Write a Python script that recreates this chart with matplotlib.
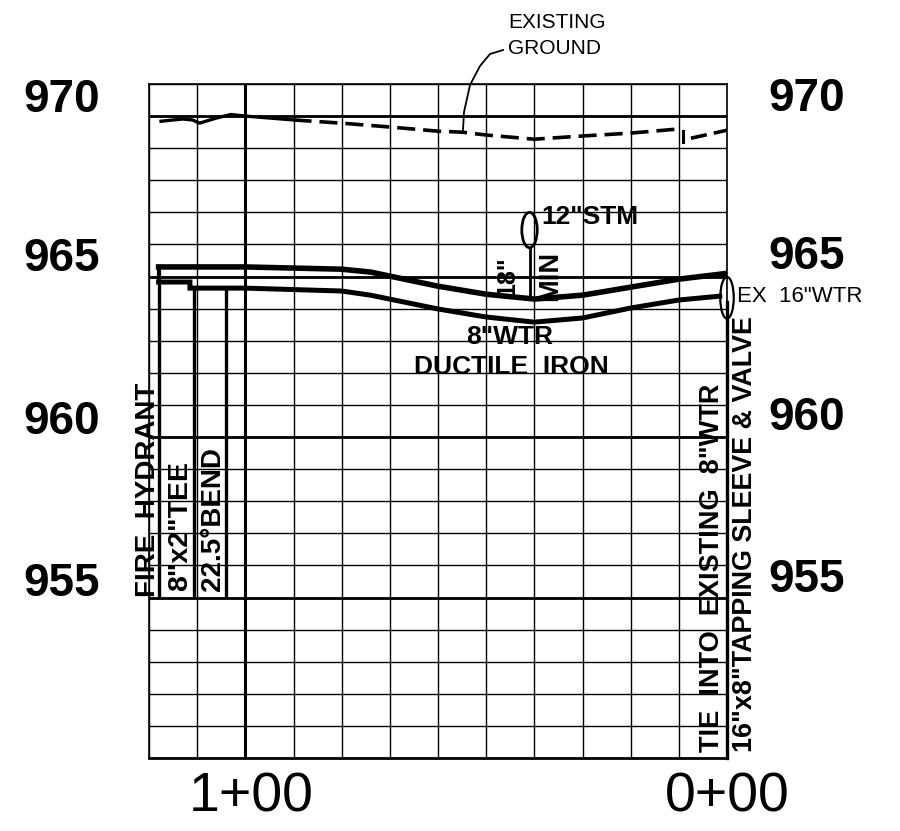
"""Water main profile sheet: station vs elevation, drawn with matplotlib Agg."""

import matplotlib

matplotlib.use("Agg")
import matplotlib.pyplot as plt
from matplotlib.patches import Ellipse
from matplotlib.ticker import FixedLocator

W, H = 900, 831
FONT = "Liberation Sans"

# station in feet (0+00 on the right), elevation in feet
ELEV_MAJOR = [970, 965, 960, 955]
STATION_MAJOR = [100]
STATION_LABELS = ["1+00", "0+00"]

PIPE_TOP_STA = [118, 100, 80, 74, 60, 50, 40, 30, 20, 10, 0]
PIPE_TOP_EL = [965.30, 965.30, 965.23, 965.14, 964.70, 964.45, 964.30, 964.42, 964.67, 964.92, 965.10]

PIPE_BOT_STA = [118, 111.5, 111.5, 100, 80, 74, 60, 50, 40, 30, 20, 10, 1.5]
PIPE_BOT_EL = [964.83, 964.83, 964.64, 964.64, 964.55, 964.42, 963.99, 963.74, 963.58, 963.71, 964.02, 964.27, 964.39]

GROUND_SOLID_STA = [117.5, 113, 111, 109.5, 106, 103, 100, 90]
GROUND_SOLID_EL = [969.84, 969.91, 969.88, 969.78, 969.94, 970.05, 970.00, 969.88]
GROUND_DASH_STA = [90, 80, 70, 60, 55, 50, 40, 30, 20, 10, 9.5]
GROUND_DASH_EL = [969.88, 969.78, 969.66, 969.53, 969.50, 969.41, 969.28, 969.38, 969.47, 969.60, 969.60]
GROUND_END_STA = [7.5, 0]
GROUND_END_EL = [969.31, 969.56]

# stakes dropped from the pipe down to the 955 line
STAKE_STA = [118, 110.6, 104]
STAKE_TOP = [964.83, 964.64, 964.64]


def px(x, y):
    return x / W, 1 - y / H


def label(x, y, s, size, weight="bold", rotation=0, ha="center", va="center"):
    fig.text(*px(x, y), s, fontsize=size, fontweight=weight, family=FONT,
             rotation=rotation, ha=ha, va=va, color="black")


fig = plt.figure(figsize=(W / 100, H / 100), dpi=100, facecolor="white")
ax = fig.add_axes([149 / W, 1 - 758 / H, 578 / W, 674 / H])
ax.set_xlim(120, 0)
ax.set_ylim(950, 971)

ax.xaxis.set_major_locator(FixedLocator(range(0, 121, 10)))
ax.yaxis.set_major_locator(FixedLocator(range(950, 972)))
ax.grid(True, color="black", linewidth=1.0)
ax.set_axisbelow(True)
ax.tick_params(left=False, bottom=False, labelleft=False, labelbottom=False)
for spine in ax.spines.values():
    spine.set_linewidth(1.2)
ax.spines["bottom"].set_linewidth(2.0)

for el in ELEV_MAJOR:
    ax.axhline(el, color="black", linewidth=2.0)
for sta in STATION_MAJOR:
    ax.axvline(sta, color="black", linewidth=2.2)
# 0+00 is only heavy below the tie-in
ax.plot([0, 0], [950, 964.2], color="black", linewidth=2.4, clip_on=False)

ax.plot(PIPE_TOP_STA, PIPE_TOP_EL, color="black", linewidth=4.0, solid_joinstyle="miter")
ax.plot(PIPE_BOT_STA, PIPE_BOT_EL, color="black", linewidth=3.6, solid_joinstyle="miter")
ax.plot([118, 118], [964.83, 965.30], color="black", linewidth=3.0)

ax.vlines(STAKE_STA, 955, STAKE_TOP, color="black", linewidth=2.4)

ax.plot(GROUND_SOLID_STA, GROUND_SOLID_EL, color="black", linewidth=2.4)
ax.plot(GROUND_DASH_STA, GROUND_DASH_EL, color="black", linewidth=2.6, dashes=(5, 2.2))
ax.plot(GROUND_END_STA, GROUND_END_EL, color="black", linewidth=2.6, dashes=(4.5, 2))
ax.plot([9.2, 9.2], [969.2, 969.55], color="black", linewidth=2.2)

# storm pipe crossing and the 18" clearance stem
ax.add_patch(Ellipse((41, 966.45), 3.2, 1.1, fill=False, edgecolor="black", linewidth=2.0))
ax.plot([41, 41], [964.3, 965.9], color="black", linewidth=2.0)

# existing 16" main at the tie-in
ax.add_patch(Ellipse((0, 964.34), 2.8, 1.3, fill=False, edgecolor="black", linewidth=1.6, clip_on=False))

# leader from the ground note
LEADER = [(463, 130), (464, 112), (470, 85), (480, 66), (490, 54), (503, 50)]
fig.add_artist(plt.Line2D([px(*p)[0] for p in LEADER], [px(*p)[1] for p in LEADER],
                          color="black", linewidth=1.3))

for el, yl, yr in zip(ELEV_MAJOR, [100, 259, 422, 584], [99, 257, 418, 580]):
    label(62, yl, str(el), 33)
    label(807, yr, str(el), 33)

label(251, 798, STATION_LABELS[0], 40, weight="normal")
label(727, 798, STATION_LABELS[1], 40, weight="normal")

label(508, 22, "EXISTING", 15, weight="normal", ha="left")
label(508, 48, "GROUND", 15, weight="normal", ha="left")
label(737, 297, 'EX  16"WTR', 16, weight="normal", ha="left")

label(590, 217, '12"STM', 19)
label(510, 337, '8"WTR', 19)
label(511, 367, "DUCTILE  IRON", 19)
label(507, 276, '18"', 18, rotation=90)
label(550, 276, "MIN", 19.5, rotation=90)

label(148, 490, "FIRE  HYDRANT", 20, rotation=90)
label(180, 526, '8"x2"TEE', 20.5, rotation=90)
label(213, 519, '22.5°BEND', 20, rotation=90)
label(712, 568, 'TIE  INTO  EXISTING  8"WTR', 19.5, rotation=90)
label(745, 534, '16"x8"TAPPING SLEEVE & VALVE', 19.4, rotation=90)

fig.savefig("out.png", dpi=100, facecolor="white")
plt.close(fig)
